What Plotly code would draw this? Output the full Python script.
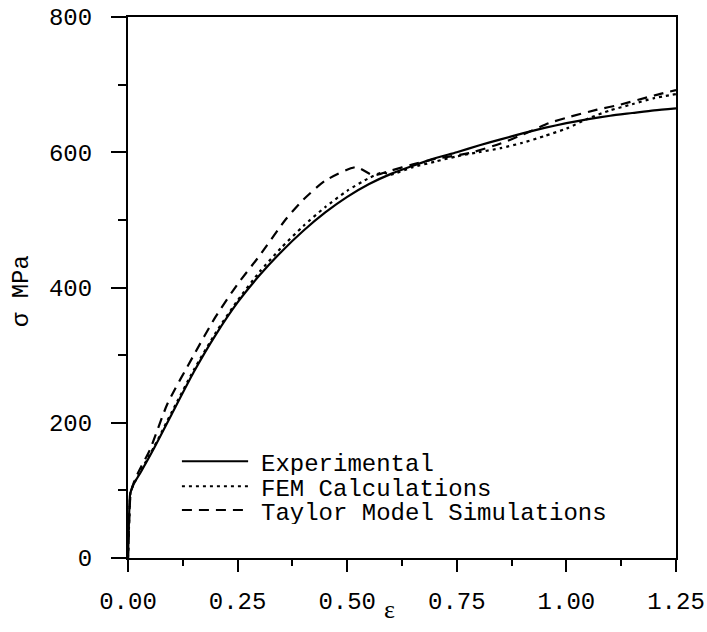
import plotly.graph_objects as go

# Experimental
exp_x = [0, 0.002, 0.005, 0.012, 0.03, 0.06, 0.10, 0.15, 0.20, 0.25, 0.30, 0.35, 0.40, 0.45, 0.50,
         0.55, 0.60, 0.65, 0.70, 0.75, 0.80, 0.85, 0.90, 0.95, 1.00, 1.05, 1.10, 1.15, 1.20, 1.25]
exp_y = [0, 50, 95, 108, 128, 163, 213, 275, 330, 378, 418, 453, 484, 511, 534,
         553, 568, 580, 591, 600, 610, 619, 628, 636, 643, 649, 654, 658, 662, 665]

# FEM Calculations
fem_x = [0, 0.003, 0.006, 0.012, 0.03, 0.06, 0.10, 0.15, 0.20, 0.25, 0.30, 0.35, 0.40, 0.45, 0.50,
         0.55, 0.58, 0.60, 0.65, 0.70, 0.75, 0.80, 0.85, 0.90, 0.95, 1.00, 1.05, 1.10, 1.15, 1.20, 1.25]
fem_y = [0, 60, 98, 108, 130, 165, 216, 278, 333, 381, 423, 459, 491, 519, 543,
         562, 570, 567, 578, 586, 594, 600, 606, 614, 624, 635, 650, 662, 671, 680, 686]

# Taylor Model Simulations
tay_x = [0, 0.003, 0.006, 0.015, 0.03, 0.05, 0.09, 0.15, 0.20, 0.25, 0.30, 0.36, 0.40, 0.45,
         0.52, 0.56, 0.60, 0.65, 0.70, 0.78, 0.85, 0.90, 0.96, 1.00, 1.07, 1.12, 1.20, 1.25]
tay_y = [0, 60, 95, 115, 135, 160, 228, 300, 357, 405, 447, 501, 530, 558,
         578, 566, 573, 582, 590, 599, 613, 626, 643, 651, 663, 670, 684, 692]

x_ticks = [0.0, 0.25, 0.5, 0.75, 1.0, 1.25]
x_tick_labels = ["0.00", "0.25", "0.50", "0.75", "1.00", "1.25"]
y_ticks = [0, 200, 400, 600, 800]
y_tick_labels = ["0", "200", "400", "600", "800"]

series_names = ["Experimental", "FEM Calculations", "Taylor Model Simulations"]
series_dash = ["solid", "3px,4px", "10px,7px"]
series_width = [2.2, 2.2, 2.2]

FONT = "Liberation Mono"

fig = go.Figure()
for xs, ys, name, dash, w in zip([exp_x, fem_x, tay_x], [exp_y, fem_y, tay_y],
                                 series_names, series_dash, series_width):
    fig.add_trace(go.Scatter(x=xs, y=ys, mode="lines", name=name, showlegend=False,
                             line=dict(color="black", width=w, dash=dash, shape="spline",
                                       smoothing=0.6)))

# legend drawn manually
leg_y = [143, 106, 71]
for name, dash, yy in zip(series_names, series_dash, leg_y):
    fig.add_shape(type="line", xref="x", yref="y", x0=0.123, x1=0.274, y0=yy, y1=yy,
                  line=dict(color="black", width=2, dash=dash))
    fig.add_annotation(x=0.298, y=yy - 4, xref="x", yref="y", text=name, showarrow=False,
                       xanchor="left", yanchor="middle", height=22,
                       font=dict(family=FONT, size=24, color="black"))

fig.add_annotation(x=-0.193, y=395, xref="paper", yref="y", text="σ MPa", textangle=-90,
                   xanchor="center", yanchor="middle",
                   showarrow=False, font=dict(family=FONT, size=24, color="#000000"))
fig.add_annotation(x=0.478, y=-0.096, xref="paper", yref="paper", text="ε", showarrow=False,
                   xanchor="center", yanchor="middle",
                   font=dict(family="Liberation Serif", size=26, color="black"))

fig.update_xaxes(range=[0, 1.25], tickvals=x_ticks, ticktext=x_tick_labels, automargin=False,
                 ticklabeloverflow="allow",
                 showgrid=False, zeroline=False, showline=True, linecolor="black", linewidth=2,
                 mirror=True, ticks="outside", ticklen=12, tickwidth=2, tickcolor="black",
                 minor=dict(dtick=0.125, tick0=0, ticks="outside", ticklen=6, tickwidth=2,
                            tickcolor="black"),
                 tickfont=dict(family=FONT, size=24, color="black"), ticklabelstandoff=8)
fig.update_yaxes(range=[0, 800], tickvals=y_ticks, ticktext=y_tick_labels, automargin=False,
                 ticklabeloverflow="allow",
                 showgrid=False, zeroline=False, showline=True, linecolor="black", linewidth=2,
                 mirror=True, ticks="outside", ticklen=15, tickwidth=2, tickcolor="black",
                 minor=dict(dtick=100, tick0=0, ticks="outside", ticklen=8, tickwidth=2,
                            tickcolor="black"),
                 tickfont=dict(family=FONT, size=24, color="black"), ticklabelstandoff=14)

fig.update_layout(width=707, height=632, plot_bgcolor="white", paper_bgcolor="white",
                  margin=dict(l=128, r=31, t=17, b=74))

# remove the default page margin so the figure fills the 707x632 window exactly
fig.write_html("out.html", config={"displayModeBar": False},
               post_script="document.body.style.margin='0';")
